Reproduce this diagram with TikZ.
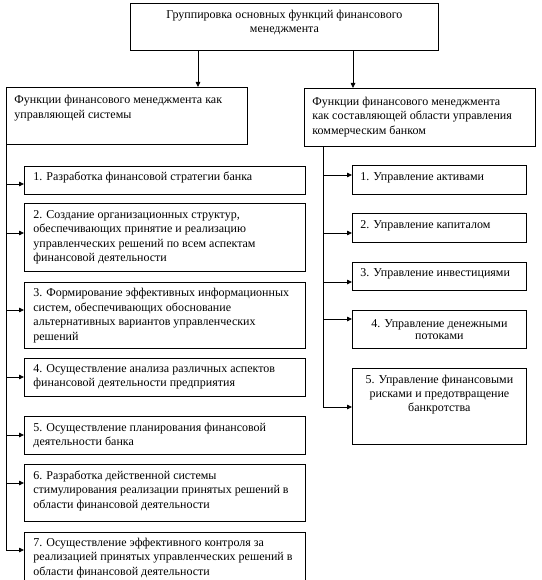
\documentclass[tikz,border=0pt]{standalone}
\usepackage{fontspec}
\setmainfont{Liberation Serif}
\usetikzlibrary{arrows.meta,calc}
\newcommand{\boxtxt}[5]{\parbox[c][#2][t]{#1}{#4\rule{0pt}{#3}\ignorespaces #5}}
\tikzset{
  bx/.style={draw, line width=0.8pt, inner ysep=0pt, inner xsep=9pt, anchor=north west,
    font={\fontsize{12pt}{14.5pt}\selectfont}},
  arr/.style={line width=0.8pt, -{Triangle[length=5pt,width=4.5pt]}},
  ln/.style={line width=0.8pt}
}
\begin{document}
\begin{tikzpicture}[x=1pt,y=-1pt]
\useasboundingbox (0,0) rectangle (541,580);
% top
\node[bx] (top) at (130,3) {\boxtxt{290pt}{47pt}{15pt}{\centering\fontsize{12pt}{14pt}\selectfont}{Группировка основных функций финансового\\менеджмента}};
% headers
\node[bx, inner xsep=8pt] (hl) at (6,87) {\boxtxt{225pt}{57pt}{16.5pt}{\raggedright}{Функции финансового менеджмента как\\управляющей системы}};
\node[bx, inner xsep=8pt] (hr) at (304,88) {\boxtxt{215pt}{58pt}{17pt}{\raggedright}{Функции финансового менеджмента\\как составляющей области управления\\коммерческим банком}};
% left column
\node[bx] (b1) at (24,166) {\boxtxt{263pt}{28pt}{14pt}{\raggedright}{1. Разработка финансовой стратегии банка}};
\node[bx] (b2) at (24,203) {\boxtxt{263pt}{68pt}{15pt}{\raggedright}{2. Создание организационных структур,\\обеспечивающих принятие и реализацию\\управленческих решений по всем аспектам\\финансовой деятельности}};
\node[bx] (b3) at (24,282) {\boxtxt{263pt}{66pt}{14.5pt}{\raggedright}{3. Формирование эффективных информационных\\систем, обеспечивающих обоснование\\альтернативных вариантов управленческих\\решений}};
\node[bx] (b4) at (24,358) {\boxtxt{263pt}{38pt}{14pt}{\raggedright}{4. Осуществление анализа различных аспектов\\финансовой деятельности предприятия}};
\node[bx] (b5) at (24,416) {\boxtxt{263pt}{38pt}{15pt}{\raggedright}{5. Осуществление планирования финансовой\\деятельности банка}};
\node[bx] (b6) at (24,464) {\boxtxt{263pt}{57pt}{15pt}{\raggedright}{6. Разработка действенной системы\\стимулирования реализации принятых решений в\\области финансовой деятельности}};
\node[bx] (b7) at (24,532) {\boxtxt{263pt}{60pt}{14pt}{\raggedright}{7. Осуществление эффективного контроля за\\реализацией принятых управленческих решений в\\области финансовой деятельности}};
% right column
\node[bx, inner xsep=8pt] (r1) at (352,165) {\boxtxt{158pt}{29pt}{15.5pt}{\raggedright}{1. Управление активами}};
\node[bx, inner xsep=8pt] (r2) at (352,213) {\boxtxt{158pt}{29pt}{15pt}{\raggedright}{2. Управление капиталом}};
\node[bx, inner xsep=8pt] (r3) at (352,262) {\boxtxt{158pt}{28pt}{14pt}{\raggedright}{3. Управление инвестициями}};
\node[bx, inner xsep=8pt] (r4) at (352,310) {\boxtxt{158pt}{38pt}{17pt}{\centering\fontsize{12pt}{12.5pt}\selectfont}{4. Управление денежными\\потоками}};
\node[bx, inner xsep=8pt] (r5) at (352,368) {\boxtxt{158pt}{76pt}{15pt}{\centering\fontsize{12pt}{14pt}\selectfont}{5. Управление финансовыми\\рисками и предотвращение\\банкротства}};
% top arrows
\coordinate (cl) at (198,0);
\coordinate (cr) at (353,0);
\draw[arr] (top.south -| cl) -- (hl.north -| cl);
\draw[arr] (top.south -| cr) -- (hr.north -| cr);
% left spine
\coordinate (s1) at (6,184);
\coordinate (s2) at (6,233);
\coordinate (s3) at (6,310);
\coordinate (s4) at (6,377);
\coordinate (s5) at (6,435);
\coordinate (s6) at (6,483);
\coordinate (s7) at (6,550);
\draw[ln] (hl.south west) -- (s7);
\foreach \s/\b in {s1/b1,s2/b2,s3/b3,s4/b4,s5/b5,s6/b6,s7/b7}
  \draw[arr] (\s) -- (\s -| \b.west);
% right spine
\coordinate (t1) at (323,175);
\coordinate (t2) at (323,233);
\coordinate (t3) at (323,282);
\coordinate (t4) at (323,319);
\coordinate (t5) at (323,407);
\draw[ln] (t5 |- hr.south) -- (t5);
\foreach \s/\b in {t1/r1,t2/r2,t3/r3,t4/r4,t5/r5}
  \draw[arr] (\s) -- (\s -| \b.west);
\end{tikzpicture}
\end{document}
